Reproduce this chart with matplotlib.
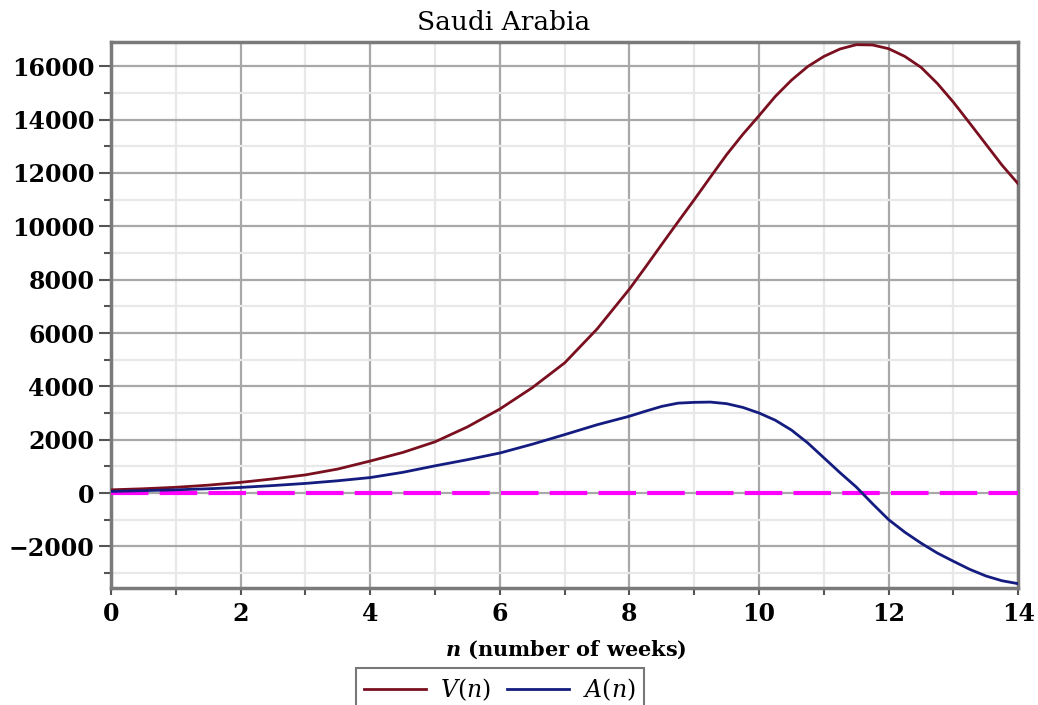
import numpy as np
import matplotlib
matplotlib.use("Agg")
import matplotlib.pyplot as plt
from matplotlib.ticker import MultipleLocator

# values
n = [0, 0.5, 1, 1.5, 2, 2.5, 3, 3.5, 4, 4.5, 5, 5.5, 6, 6.5, 7, 7.5, 8,
     8.25, 8.5, 8.75, 9, 9.25, 9.5, 9.75, 10, 10.25, 10.5, 10.75, 11, 11.25,
     11.5, 11.75, 12, 12.25, 12.5, 12.75, 13, 13.25, 13.5, 13.75, 14]
V = [120, 160, 215, 295, 400, 530, 680, 900, 1200, 1520, 1920, 2480, 3150, 3950,
     4880, 6150, 7650,
     8480, 9330, 10170, 11000, 11850, 12690, 13450, 14150, 14870, 15480, 15990,
     16370, 16650, 16810, 16800, 16660, 16370, 15960, 15360, 14650, 13870,
     13080, 12290, 11590]
A = [60, 90, 120, 160, 210, 280, 360, 460, 580, 775, 1020, 1250, 1500, 1830, 2190,
     2560, 2880,
     3070, 3250, 3370, 3400, 3410, 3350, 3210, 3000, 2730, 2360, 1880, 1320,
     760, 225, -400, -1000, -1470, -1880, -2250, -2560, -2860, -3110, -3290,
     -3400]

x_ticks = [0, 2, 4, 6, 8, 10, 12, 14]
y_ticks = [-2000, 0, 2000, 4000, 6000, 8000, 10000, 12000, 14000, 16000]

plt.rcParams['font.family'] = 'DejaVu Serif'
plt.rcParams['mathtext.fontset'] = 'dejavuserif'

fig = plt.figure(figsize=(10.38, 7.05), dpi=100)
ax = fig.add_axes([0.107, 0.166, 0.874, 0.774])

ax.plot(n, V, color='#7a0f1f', lw=2, label=r'$V(n)$', zorder=4)
ax.plot(n, A, color='#141c80', lw=2, label=r'$A(n)$', zorder=4)
ax.axhline(0, color='#ff00ff', lw=3, dashes=(9, 2.7), zorder=3)

ax.set_xlim(0, 14)
ax.set_ylim(-3560, 16900)
ax.set_xticks(x_ticks)
ax.set_yticks(y_ticks)
ax.xaxis.set_minor_locator(MultipleLocator(1))
ax.yaxis.set_minor_locator(MultipleLocator(1000))
ax.set_yticklabels(['\u22122000' if t < 0 else str(t) for t in y_ticks])

ax.grid(which='major', color='#a8a8a8', lw=1.6, zorder=0)
ax.grid(which='minor', color='#e8e8e8', lw=1.6, zorder=0)
ax.set_axisbelow(True)

for s in ax.spines.values():
    s.set_color('#7a7a7a')
    s.set_linewidth(2.5)

ax.tick_params(axis='both', which='major', labelsize=17, colors='#555555',
               labelcolor='black', width=1.5)
ax.tick_params(axis='y', which='major', length=9, pad=3)
ax.tick_params(axis='y', which='minor', length=5, width=1.5, colors='#555555')
ax.tick_params(axis='x', which='major', length=5, pad=5)
ax.tick_params(axis='x', which='minor', length=5, width=1.5, colors='#555555')
for lab in ax.get_xticklabels() + ax.get_yticklabels():
    lab.set_fontweight('bold')

fig.text(504 / 1038, 1 - 22 / 705, 'Saudi Arabia', ha='center', va='center',
         fontsize=19)
fig.text(566 / 1038, 1 - 650 / 705, r'$\mathbfit{n}$ (number of weeks)',
         ha='center', va='center', fontsize=15, fontweight='bold')

leg = fig.legend(loc='upper center', bbox_to_anchor=(500 / 1038, 1 - 668 / 705),
                 ncol=2, fontsize=17, frameon=True, fancybox=False,
                 handlelength=2.6, columnspacing=0.7, handletextpad=0.6,
                 borderpad=0.35, borderaxespad=0)
leg.get_frame().set_edgecolor('#555555')
leg.get_frame().set_linewidth(1.5)

fig.savefig('out.png', dpi=100)
